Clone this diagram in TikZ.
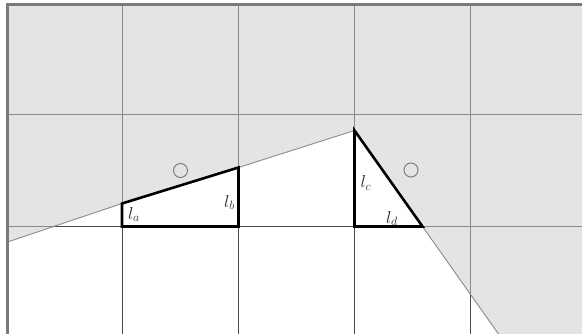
\documentclass[tikz,border=0pt]{standalone}
\begin{document}
\begin{tikzpicture}[x=1pt,y=-1pt,
  gridline/.style={draw=gridgray, line width=0.9pt},
  gridlinedark/.style={draw=griddark, line width=0.9pt},
  thickpoly/.style={draw=black, line width=2.6pt, line join=miter},
  ring/.style={draw=ringgray, circle, line width=1pt, minimum size=14pt, inner sep=0pt},
  lab/.style={text=black!85, inner sep=0pt, font=\fontsize{18}{20}\selectfont}]
\definecolor{areagray}{HTML}{E4E4E4}
\definecolor{gridgray}{HTML}{8A8A8A}
\definecolor{griddark}{HTML}{4A4A4A}
\definecolor{ringgray}{HTML}{808080}
\definecolor{bordergray}{HTML}{7A7A7A}
\useasboundingbox (0,0) rectangle (582,334);
% key points
\coordinate (L) at (7.5,242);
\coordinate (A) at (122,203.5);
\coordinate (B) at (238.5,167.5);
\coordinate (P) at (354.5,130.5);
\coordinate (Q) at (422.5,226.5);
\coordinate (E) at (498.5,334);
\coordinate (A0) at (122,226.5);
\coordinate (B0) at (238.5,226.5);
\coordinate (P0) at (354.5,226.5);
% shaded region and white region
\fill[areagray] (7.5,4.5) rectangle (582,334);
\fill[white] (L) -- (A) -- (B) -- (P) -- (Q) -- (E) -- (7.5,334) -- cycle;
% grid in shaded area
\foreach \x in {122,238.5,354.5,470.5} \draw[gridline] (\x,4.5) -- (\x,334);
\foreach \y in {114.5,226.5} \draw[gridline] (7.5,\y) -- (582,\y);
% grid in white area, darker
\begin{scope}
  \clip (L) -- (A) -- (B) -- (P) -- (Q) -- (E) -- (7.5,334) -- cycle;
  \foreach \x in {122,238.5,354.5,470.5} \draw[gridlinedark] (\x,4.5) -- (\x,334);
  \foreach \y in {114.5,226.5} \draw[gridlinedark] (7.5,\y) -- (582,\y);
\end{scope}
% boundary polyline
\draw[gridline] (L) -- (A) -- (B) -- (P) -- (Q) -- (E);
% borders
\draw[draw=bordergray, line width=2.6pt] (7.5,334) -- (7.5,4.5) -- (582,4.5);
% thick shapes
\draw[thickpoly] (A0) -- (A) -- (B) -- (B0) -- cycle;
\draw[thickpoly] (P) -- (Q) -- (P0) -- cycle;
% rings
\node[ring] (c1) at (180.5,170.5) {};
\node[ring] (c2) at (411,170) {};
% labels
\node[lab] (la) at (134,214.5) {$l_a$};
\node[lab] (lb) at (229.5,202.5) {$l_b$};
\node[lab] (lc) at (366,183) {$l_c$};
\node[lab] (ld) at (392,218.5) {$l_d$};
\end{tikzpicture}
\end{document}
